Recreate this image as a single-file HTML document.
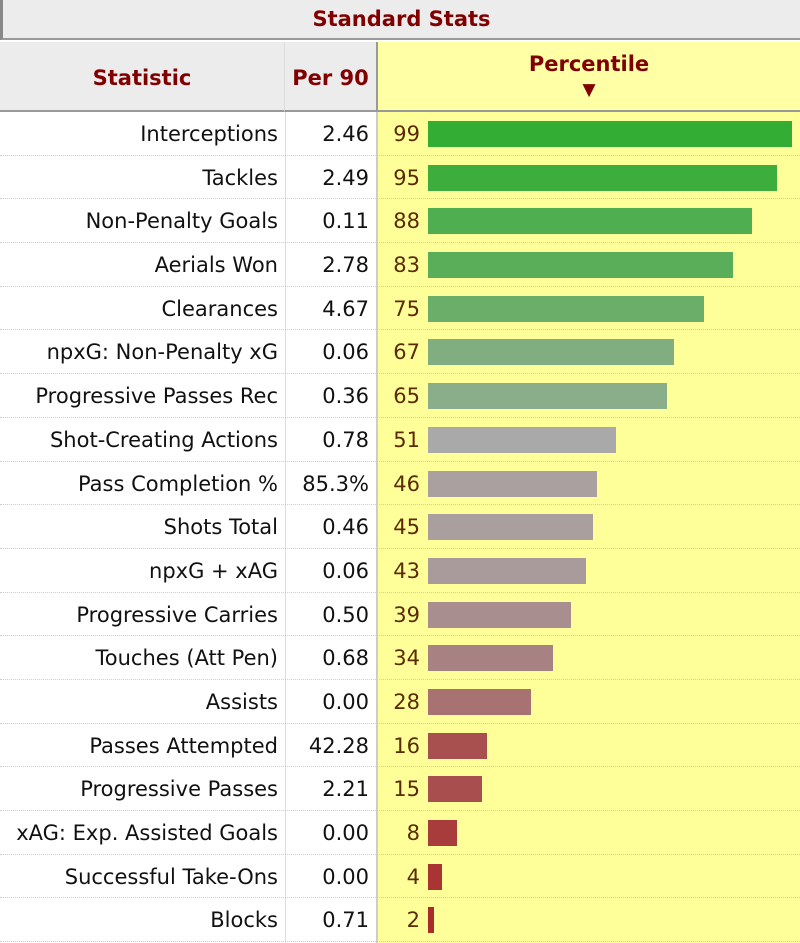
<!DOCTYPE html>
<html><head><meta charset="utf-8"><style>
body{margin:0;width:800px;height:943px;overflow:hidden;background:#fff;font-family:"DejaVu Sans","Liberation Sans",sans-serif;}
.title{position:absolute;left:0;top:0;width:800px;height:40px;background:#ececec;border-left:3px solid #888;box-sizing:border-box;border-bottom:2px solid #999;text-align:center;line-height:38px;font-weight:bold;color:#800000;font-size:21px;}
.hdr{position:absolute;top:42px;height:70px;box-sizing:border-box;font-weight:bold;color:#800000;font-size:21px;border-bottom:2px solid #999;}
.h1{left:0;width:285px;background:#ececec;text-align:center;line-height:72px;border-right:1px solid #ddd;}
.h2{left:285px;width:91px;background:#ececec;text-align:center;line-height:72px;}
.h3{left:376px;width:424px;background:#ffffa6;text-align:center;border-left:2px solid #999;}
.bg{position:absolute;left:376px;top:112px;width:424px;height:831px;background:#ffff99;border-left:2px solid #ccc;box-sizing:border-box;}
.sep{position:absolute;left:285px;top:112px;width:1px;height:831px;background:#ddd;}
.rows{position:absolute;left:0;top:112px;width:800px;}
.r{position:relative;height:43.7px;border-bottom:1px dotted #ccc;box-sizing:border-box;font-size:21px;color:#111;}
.s{position:absolute;right:522px;top:10px;white-space:nowrap;}
.p{position:absolute;right:431px;top:10px;}
.n{position:absolute;right:380px;top:10px;color:#5a2a00;}
.b{position:absolute;left:428px;top:9px;height:26px;}
</style></head><body>
<div class="title">Standard Stats</div>
<div class="hdr h1">Statistic</div>
<div class="hdr h2">Per 90</div>
<div class="hdr h3"><div style="margin-top:10px">Percentile</div><div style="font-size:17px;line-height:28px">▼</div></div>
<div class="bg"></div>
<div class="sep"></div>
<div class="rows">
<div class="r"><span class="s">Interceptions</span><span class="p">2.46</span><span class="n">99</span><div class="b" style="width:364px;background:#34ad34"></div></div>
<div class="r"><span class="s">Tackles</span><span class="p">2.49</span><span class="n">95</span><div class="b" style="width:349px;background:#3dae3d"></div></div>
<div class="r"><span class="s">Non-Penalty Goals</span><span class="p">0.11</span><span class="n">88</span><div class="b" style="width:324px;background:#4fae4f"></div></div>
<div class="r"><span class="s">Aerials Won</span><span class="p">2.78</span><span class="n">83</span><div class="b" style="width:305px;background:#5aae5a"></div></div>
<div class="r"><span class="s">Clearances</span><span class="p">4.67</span><span class="n">75</span><div class="b" style="width:276px;background:#6aae6a"></div></div>
<div class="r"><span class="s">npxG: Non-Penalty xG</span><span class="p">0.06</span><span class="n">67</span><div class="b" style="width:246px;background:#80ae80"></div></div>
<div class="r"><span class="s">Progressive Passes Rec</span><span class="p">0.36</span><span class="n">65</span><div class="b" style="width:239px;background:#8aae8a"></div></div>
<div class="r"><span class="s">Shot-Creating Actions</span><span class="p">0.78</span><span class="n">51</span><div class="b" style="width:188px;background:#a9a9a9"></div></div>
<div class="r"><span class="s">Pass Completion %</span><span class="p">85.3%</span><span class="n">46</span><div class="b" style="width:169px;background:#aaa0a0"></div></div>
<div class="r"><span class="s">Shots Total</span><span class="p">0.46</span><span class="n">45</span><div class="b" style="width:165px;background:#aa9f9f"></div></div>
<div class="r"><span class="s">npxG + xAG</span><span class="p">0.06</span><span class="n">43</span><div class="b" style="width:158px;background:#a99b9b"></div></div>
<div class="r"><span class="s">Progressive Carries</span><span class="p">0.50</span><span class="n">39</span><div class="b" style="width:143px;background:#a88e8e"></div></div>
<div class="r"><span class="s">Touches (Att Pen)</span><span class="p">0.68</span><span class="n">34</span><div class="b" style="width:125px;background:#a88282"></div></div>
<div class="r"><span class="s">Assists</span><span class="p">0.00</span><span class="n">28</span><div class="b" style="width:103px;background:#a87272"></div></div>
<div class="r"><span class="s">Passes Attempted</span><span class="p">42.28</span><span class="n">16</span><div class="b" style="width:59px;background:#a85050"></div></div>
<div class="r"><span class="s">Progressive Passes</span><span class="p">2.21</span><span class="n">15</span><div class="b" style="width:54px;background:#a84e4e"></div></div>
<div class="r"><span class="s">xAG: Exp. Assisted Goals</span><span class="p">0.00</span><span class="n">8</span><div class="b" style="width:29px;background:#a83c3c"></div></div>
<div class="r"><span class="s">Successful Take-Ons</span><span class="p">0.00</span><span class="n">4</span><div class="b" style="width:14px;background:#a83434"></div></div>
<div class="r"><span class="s">Blocks</span><span class="p">0.71</span><span class="n">2</span><div class="b" style="width:6px;background:#a82c2c"></div></div>
</div>
</body></html>
